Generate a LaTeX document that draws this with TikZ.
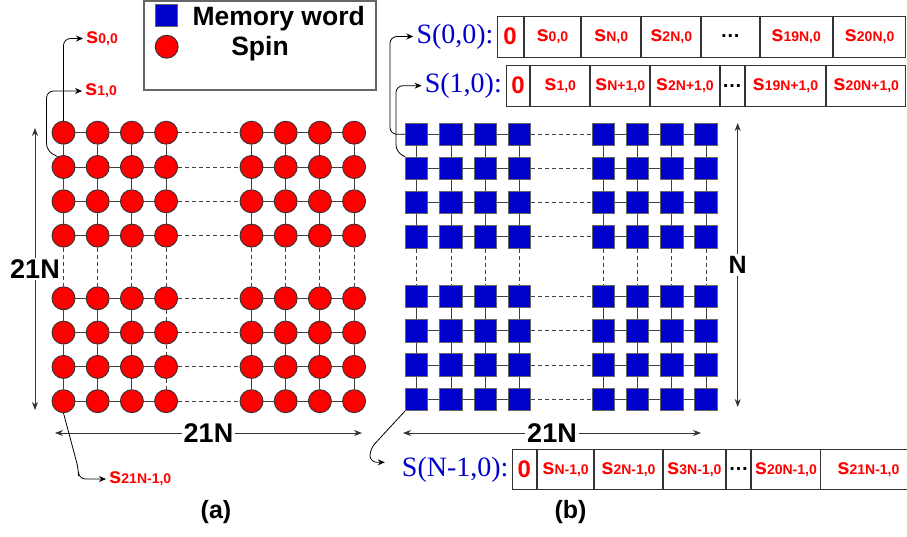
\documentclass[tikz,border=0pt]{standalone}
\usepackage{fontspec}
\setmainfont{Liberation Sans}
\newfontfamily\tmsfont{Liberation Serif}
\usetikzlibrary{positioning,arrows.meta}

\definecolor{wordblue}{RGB}{0,0,204}
\definecolor{spinred}{RGB}{255,0,0}

\newcommand{\spn}[1]{{\fontsize{22}{22}\selectfont s}{\fontsize{14}{14}\selectfont #1}}
\newcommand{\zro}{{\fontsize{24}{24}\selectfont 0}}
\newcommand{\dts}{{\color{black}\fontsize{20}{20}\selectfont …}}

\tikzset{
  spin/.style={circle,draw=black!80,fill=spinred,line width=0.9pt,minimum size=23pt,inner sep=0pt},
  word/.style={rectangle,draw=black!60,fill=wordblue,line width=1pt,minimum size=22.5pt,inner sep=0pt},
  link/.style={draw=black!75,line width=0.9pt},
  gap/.style={draw=black!75,line width=0.9pt,dash pattern=on 4pt off 3pt},
  conn/.style={-{Stealth[length=7pt,width=6pt]},line width=0.8pt,rounded corners=7pt,shorten >=2pt},
  dim/.style={{Stealth[length=8pt,width=6pt]}-{Stealth[length=8pt,width=6pt]},draw=black!80,line width=0.8pt},
  dimlbl/.style={fill=white,inner sep=2pt,font=\bfseries\fontsize{27}{27}\selectfont},
  cell/.style={draw=black!80,line width=0.9pt,inner sep=0pt,text=spinred,font=\bfseries},
  slbl/.style={text=spinred,font=\bfseries,inner sep=1pt},
  Slbl/.style={text=wordblue,font=\tmsfont\fontsize{28}{28}\selectfont,inner sep=1pt},
}

\begin{document}
\begin{tikzpicture}[x=1pt,y=-1pt]
    \useasboundingbox (0,0) rectangle (907,536);

    % Legend
    \draw[black!60,line width=1.2pt] (144,1) rectangle (376,90);
    \node[word] (lgw) at (166.7,15.5) {};
    \node[spin] (lgs) at (166.7,46.7) {};
    \node[anchor=west,font=\bfseries\fontsize{26.5}{26.5}\selectfont] (lgwt) at (189,19) {Memory word};
    \node[font=\bfseries\fontsize{26.5}{26.5}\selectfont] (lgst) at (260,49) {Spin};

    % Spin lattice (a)
    \foreach \x [count=\j] in {63.5,97.7,131.9,166.1,251.5,285.7,319.9,354.1}
      \foreach \y [count=\i] in {132.7,167,201.3,235.6,298.3,332.6,366.9,401.2}
        \node[spin] (c-\i-\j) at (\x,\y) {};
    \foreach \i in {1,...,8}
      \foreach \j in {1,2,3,5,6,7}{
        \pgfmathtruncatemacro\k{\j+1}
        \draw[link] (c-\i-\j) -- (c-\i-\k);
      }
    \foreach \j in {1,2,3,5,6,7,8}
      \foreach \i in {1,2,3,5,6,7}{
        \pgfmathtruncatemacro\k{\i+1}
        \draw[link] (c-\i-\j) -- (c-\k-\j);
      }
    \draw[link] (c-1-4) -- (c-2-4) -- (c-3-4) -- (c-4-4);
    \draw[gap] (c-5-4) -- (c-6-4) -- (c-7-4) -- (c-8-4);
    \foreach \i in {1,...,8}{
      \draw[gap] (c-\i-4) -- (c-\i-5);
      \draw[gap] (c-4-\i) -- (c-5-\i);
    }

    % Memory words (b)
    \foreach \x [count=\j] in {416.7,451,485.3,519.6,603.3,637.6,671.9,706.2}
      \foreach \y [count=\i] in {134.3,168.5,202.7,236.9,296.7,330.9,365.1,399.3}
        \node[word] (m-\i-\j) at (\x,\y) {};
    \foreach \i in {1,...,8}
      \foreach \j in {1,2,3,5,6,7}{
        \pgfmathtruncatemacro\k{\j+1}
        \draw[link] (m-\i-\j) -- (m-\i-\k);
        \draw[link] (m-\j-\i) -- (m-\k-\i);
      }
    \foreach \i in {1,...,8}{
      \draw[gap] (m-\i-4) -- (m-\i-5);
      \draw[gap] (m-4-\i) -- (m-5-\i);
    }

    % Dimensions
    \coordinate (la1) at (35,128);    \coordinate (la2) at (35,410);
    \coordinate (lb1) at (55,433);    \coordinate (lb2) at (362,433);
    \coordinate (ra1) at (737.7,123); \coordinate (ra2) at (737.7,407);
    \coordinate (rb1) at (403,433);   \coordinate (rb2) at (701,433);
    \draw[dim] (la1) -- node[dimlbl] (la) {21N} (la2);
    \draw[dim] (lb1) -- node[dimlbl] (lb) {21N} (lb2);
    \draw[dim] (ra1) -- node[dimlbl,font=\bfseries\fontsize{25}{25}\selectfont] (ra) {N} (ra2);
    \draw[dim] (rb1) -- node[dimlbl] (rb) {21N} (rb2);

    % Spin labels
    \node[slbl,anchor=west] (s00) at (85,38.5) {\spn{0,0}};
    \node[slbl,anchor=west] (s10) at (84,91) {\spn{1,0}};
    \node[slbl,anchor=west] (s21) at (108,479) {\spn{21N-1,0}};
    \draw[conn] (c-1-1.north) |- (s00.west);
    \draw[conn] (c-2-1.120) -- ++(-11,-6) |- (s10.west);
    \draw[conn] (c-8-1.south) -- ++(15,56) |- (s21.west);

    % Memory word contents
    \node[cell,minimum width=26pt,minimum height=41pt,anchor=west] (wa0) at (496.7,36.5) {\zro};
    \node[cell,minimum width=56.6pt,minimum height=41pt,right=0pt of wa0] (wa1) {\spn{0,0}};
    \node[cell,minimum width=59pt,minimum height=41pt,right=0pt of wa1] (wa2) {\spn{N,0}};
    \node[cell,minimum width=59.4pt,minimum height=41pt,right=0pt of wa2] (wa3) {\spn{2N,0}};
    \node[cell,minimum width=57.3pt,minimum height=41pt,right=0pt of wa3] (wa4) {\dts};
    \node[cell,minimum width=72.3pt,minimum height=41pt,right=0pt of wa4] (wa5) {\spn{19N,0}};
    \node[cell,minimum width=72.7pt,minimum height=41pt,right=0pt of wa5] (wa6) {\spn{20N,0}};

    \node[cell,minimum width=23.3pt,minimum height=40.7pt,anchor=west] (wb0) at (506,85.7) {\zro};
    \node[cell,minimum width=59pt,minimum height=40.7pt,right=0pt of wb0] (wb1) {\spn{1,0}};
    \node[cell,minimum width=59pt,minimum height=40.7pt,right=0pt of wb1] (wb2) {\spn{N+1,0}};
    \node[cell,minimum width=68.7pt,minimum height=40.7pt,right=0pt of wb2] (wb3) {\spn{2N+1,0}};
    \node[cell,minimum width=24pt,minimum height=40.7pt,right=0pt of wb3] (wb4) {\dts};
    \node[cell,minimum width=80.7pt,minimum height=40.7pt,right=0pt of wb4] (wb5) {\spn{19N+1,0}};
    \node[cell,minimum width=79.3pt,minimum height=40.7pt,right=0pt of wb5] (wb6) {\spn{20N+1,0}};

    \node[cell,minimum width=24.3pt,minimum height=40pt,anchor=west] (wc0) at (511.7,469.3) {\zro};
    \node[cell,minimum width=56.3pt,minimum height=40pt,right=0pt of wc0] (wc1) {\spn{N-1,0}};
    \node[cell,minimum width=67.7pt,minimum height=40pt,right=0pt of wc1] (wc2) {\spn{2N-1,0}};
    \node[cell,minimum width=62.3pt,minimum height=40pt,right=0pt of wc2] (wc3) {\spn{3N-1,0}};
    \node[cell,minimum width=24.4pt,minimum height=40pt,right=0pt of wc3] (wc4) {\dts};
    \node[cell,minimum width=68.3pt,minimum height=40pt,right=0pt of wc4] (wc5) {\spn{20N-1,0}};
    \node[cell,minimum width=95pt,minimum height=40pt,right=0pt of wc5] (wc6) {\spn{21N-1,0}};

    % Word labels
    \node[Slbl,left=2pt of wa0] (S00) {S(0,0):};
    \node[Slbl,left=3pt of wb0] (S10) {S(1,0):};
    \node[Slbl,left=2pt of wc0] (SN) {S(N-1,0):};
    \draw[conn] (m-1-1.west) -- ++(-15,0) |- (S00.west);
    \draw[conn] (m-2-1.north west) -- ++(-9,-5) |- (S10.west);
    \draw[conn] (m-8-1.south west) -- ++(-35,38) |- ([shift={(-14,-7)}]SN.west);

    % Captions
    \node[font=\bfseries\fontsize{25}{25}\selectfont] (capa) at (216,512) {(a)};
    \node[font=\bfseries\fontsize{25}{25}\selectfont] (capb) at (570.5,512) {(b)};
\end{tikzpicture}
\end{document}
